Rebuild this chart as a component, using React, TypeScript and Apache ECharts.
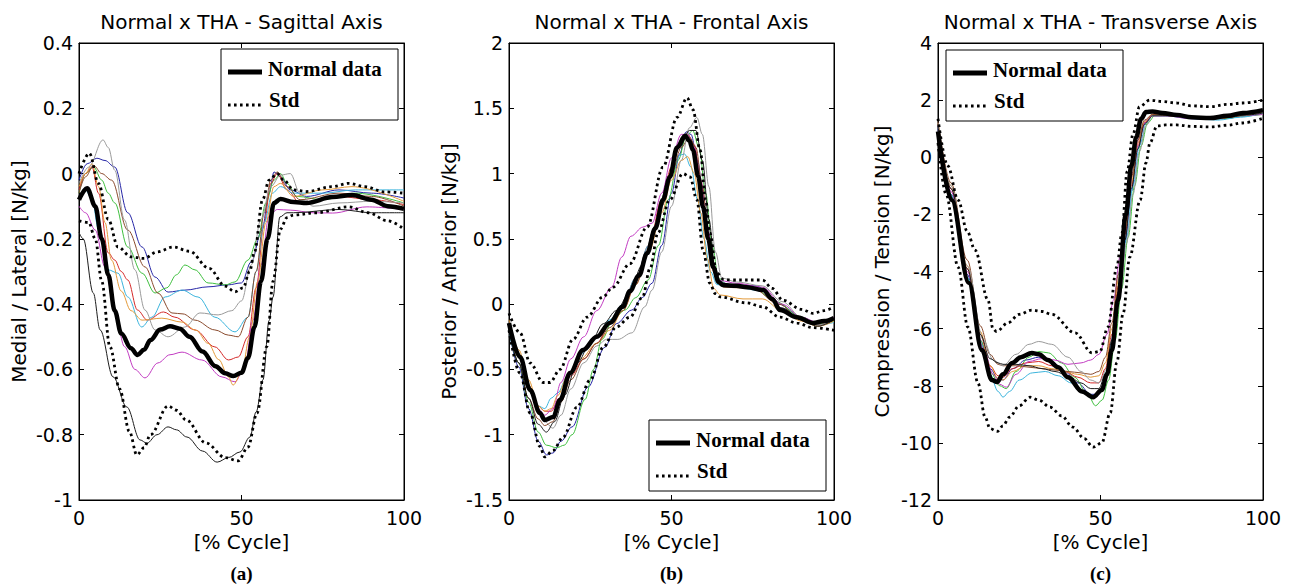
import React, { useEffect, useRef } from "react";
import * as echarts from "echarts";

const SANS = '"DejaVu Sans", "Liberation Sans", Arial, sans-serif';
const SERIF = '"Liberation Serif", "Times New Roman", serif';

// ---------- labels ----------
const panelTitles = [
  "Normal x THA - Sagittal Axis",
  "Normal x THA - Frontal Axis",
  "Normal x THA - Transverse Axis",
];
const yAxisNames = [
  "Medial / Lateral [N/kg]",
  "Posterior / Anterior [N/kg]",
  "Compression / Tension [N/kg]",
];
const xAxisName = "[% Cycle]";
const panelLetters = ["(a)", "(b)", "(c)"];
const legendNames = ["Normal data", "Std"];

// ---------- ticks ----------
const xTicks = { min: 0, max: 100, interval: 50 };
const yTicksA = { min: -1, max: 0.4, interval: 0.2 };
const yTicksB = { min: -1.5, max: 2, interval: 0.5 };
const yTicksC = { min: -12, max: 4, interval: 2 };

// ---------- panel (a) Sagittal ----------
const meanA = [[0,-0.08],[2.5,-0.045],[5,-0.1],[7,-0.2],[9,-0.31],[11,-0.42],[13,-0.49],[16,-0.535],[18,-0.556],[20,-0.54],[22,-0.51],[25,-0.478],[28,-0.468],[31,-0.475],[34,-0.5],[38,-0.545],[42,-0.59],[45,-0.612],[47.5,-0.62],[50,-0.61],[52,-0.565],[54,-0.47],[56,-0.33],[58,-0.2],[60,-0.09],[62,-0.078],[66,-0.087],[70,-0.09],[78,-0.072],[84,-0.066],[90,-0.08],[95,-0.1],[100,-0.108]];
const upperA = [[0,0.0],[3.2,0.062],[6,-0.03],[9,-0.14],[12,-0.225],[16,-0.255],[20,-0.26],[24,-0.24],[29,-0.225],[34,-0.238],[40,-0.29],[45,-0.345],[48,-0.362],[50.5,-0.35],[52.5,-0.3],[54,-0.24],[56.5,-0.08],[58.5,-0.02],[61,0.0],[63,-0.02],[66,-0.05],[70,-0.055],[78,-0.04],[83,-0.03],[88,-0.04],[94,-0.056],[100,-0.06]];
const lowerA = [[0,-0.145],[3,-0.15],[5,-0.2],[7,-0.33],[9.5,-0.53],[12.5,-0.66],[15.5,-0.79],[17.8,-0.862],[20,-0.84],[22,-0.8],[27.4,-0.712],[30,-0.725],[33,-0.755],[39,-0.825],[45,-0.87],[49,-0.88],[52,-0.838],[54.8,-0.733],[57.8,-0.53],[59.7,-0.33],[62,-0.17],[64,-0.135],[66,-0.127],[73,-0.12],[83,-0.102],[89,-0.12],[95,-0.145],[100,-0.17]];
const blueA = [[0,-0.02],[2.5,0.03],[5.5,0.047],[8,0.04],[11,0.02],[15,-0.12],[19.4,-0.225],[23.4,-0.317],[27.4,-0.363],[32.6,-0.357],[39.7,-0.347],[45.8,-0.341],[50,-0.335],[53,-0.27],[56.3,-0.173],[58.5,-0.06],[60,0.005],[62,-0.01],[65,-0.05],[70,-0.07],[80,-0.05],[90,-0.06],[100,-0.075]];
const greenA = [[0,-0.06],[2,0.0],[4.5,0.02],[7,-0.02],[9,-0.06],[11,-0.09],[15,-0.225],[19.4,-0.305],[23.4,-0.366],[27,-0.35],[30,-0.31],[32.6,-0.28],[35.7,-0.295],[39.7,-0.335],[45,-0.341],[48,-0.332],[52,-0.265],[55,-0.2],[57.5,-0.09],[60,-0.02],[62,0.0],[64,-0.03],[67,-0.07],[75,-0.08],[85,-0.06],[100,-0.09]];
const redA = [[0,-0.05],[2,0.0],[4,0.02],[6,-0.06],[9,-0.243],[11,-0.265],[13,-0.3],[15,-0.326],[18,-0.418],[21,-0.449],[26,-0.424],[29.5,-0.44],[35.7,-0.479],[41.8,-0.531],[46,-0.571],[49,-0.562],[52,-0.5],[54.5,-0.35],[57,-0.15],[59,-0.03],[61,0.0],[64,-0.05],[68,-0.09],[80,-0.07],[90,-0.08],[100,-0.095]];
const cyanA = [[0,-0.07],[2,-0.05],[4,-0.08],[6,-0.17],[9,-0.295],[12,-0.305],[15,-0.378],[19.3,-0.47],[22.4,-0.44],[26.5,-0.378],[31.7,-0.357],[36.6,-0.378],[41.8,-0.44],[48,-0.485],[52,-0.44],[54.5,-0.3],[57,-0.15],[59.5,-0.06],[62,-0.04],[66,-0.06],[75,-0.06],[85,-0.05],[100,-0.05]];
const magentaA = [[0,-0.1],[2,-0.12],[5,-0.173],[8,-0.286],[11,-0.42],[14,-0.53],[17.2,-0.6],[20.3,-0.626],[24.3,-0.58],[28,-0.555],[31.7,-0.547],[37.8,-0.571],[44,-0.623],[48,-0.638],[51,-0.593],[53.5,-0.45],[56,-0.28],[58.5,-0.13],[61,-0.11],[65,-0.112],[72,-0.12],[78,-0.121],[88.6,-0.102],[100,-0.11]];
const orangeA = [[0,-0.04],[2,0.0],[4,0.03],[6,-0.04],[8,-0.15],[10,-0.265],[13,-0.36],[16,-0.42],[19.4,-0.449],[25.5,-0.443],[31.7,-0.455],[36,-0.48],[39.7,-0.52],[43,-0.57],[46,-0.623],[47.4,-0.648],[50,-0.611],[52.5,-0.5],[55,-0.33],[57.5,-0.15],[60,-0.04],[62,-0.03],[66,-0.07],[75,-0.05],[84,-0.04],[100,-0.085]];
const brownA = [[0,-0.06],[2,-0.01],[4.5,0.025],[7,0.0],[10,-0.02],[15,-0.173],[20.3,-0.286],[24.3,-0.366],[28.6,-0.427],[32,-0.43],[35.7,-0.449],[41.8,-0.479],[46,-0.495],[49,-0.5],[52,-0.44],[54.5,-0.3],[57,-0.12],[59,-0.02],[61,0.005],[64,-0.04],[68,-0.08],[80,-0.06],[90,-0.07],[100,-0.1]];
const grayA = [[0,-0.03],[3,0.02],[7.4,0.103],[9,0.08],[11,0.01],[14,-0.142],[17.2,-0.295],[20.3,-0.418],[23.4,-0.479],[27.4,-0.5],[32.6,-0.47],[37.2,-0.427],[42.8,-0.433],[47,-0.42],[50,-0.39],[53,-0.28],[56,-0.14],[59,-0.04],[62,-0.005],[65,0.0],[68,-0.06],[72,-0.1],[80,-0.09],[90,-0.085],[100,-0.09]];
const blackA = [[0,-0.18],[1.3,-0.2],[4.4,-0.366],[6.5,-0.479],[10.5,-0.623],[14.7,-0.715],[18.8,-0.816],[20.9,-0.826],[24,-0.8],[27.4,-0.776],[30,-0.785],[33.2,-0.807],[38,-0.85],[42.5,-0.884],[46,-0.87],[49.5,-0.853],[52.6,-0.807],[54.5,-0.73],[56.6,-0.632],[58.5,-0.45],[59.7,-0.378],[61.8,-0.133],[64,-0.12],[66,-0.12],[80,-0.11],[90,-0.12],[100,-0.12]];

// ---------- panel (b) Frontal ----------
const meanB = [[0,-0.144],[3.4,-0.405],[6.5,-0.657],[9.5,-0.834],[11,-0.887],[13.6,-0.865],[15.7,-0.734],[18.8,-0.527],[22.8,-0.351],[27,-0.25],[31,-0.144],[35,-0.02],[37.2,0.1],[40,0.22],[42.5,0.39],[45,0.58],[47.4,0.8],[49.5,0.974],[51.7,1.2],[54.2,1.29],[55.5,1.25],[56.6,1.18],[58.2,0.98],[59.7,0.744],[61.3,0.5],[62.8,0.285],[64.5,0.17],[65.8,0.146],[70,0.14],[73.2,0.13],[78.2,0.108],[81,0.04],[83.4,-0.045],[88.6,-0.1],[93.5,-0.144],[97,-0.13],[100,-0.106]];
const upperB = [[0,-0.07],[3.4,-0.22],[6.5,-0.45],[10.5,-0.6],[12.6,-0.6],[15.7,-0.5],[19.7,-0.27],[24,-0.1],[28.9,0.055],[32,0.13],[37.2,0.31],[42.5,0.59],[47.4,1.05],[51.7,1.43],[54.8,1.58],[56.6,1.49],[58.8,1.18],[60.5,0.8],[61.8,0.545],[63.9,0.24],[66,0.19],[68,0.185],[78,0.185],[81,0.12],[84.3,0.03],[90,-0.04],[93.5,-0.07],[97,-0.05],[100,-0.02]];
const lowerB = [[0,-0.2],[3.4,-0.53],[6.5,-0.834],[9.5,-1.09],[11,-1.17],[13.6,-1.12],[16.6,-1.02],[20.9,-0.79],[25,-0.58],[29,-0.33],[33,-0.175],[37.2,-0.1],[41,0.05],[43.5,0.28],[45.8,0.545],[49.5,0.8],[53.5,1.0],[55.7,0.974],[57.8,0.8],[59.7,0.415],[61.8,0.16],[63.5,0.08],[65,0.055],[73,0.01],[78,-0.02],[83.4,-0.1],[88.6,-0.145],[93.5,-0.18],[100,-0.2]];
const blueB = [[0,-0.2],[3,-0.48],[6,-0.8],[9,-1.05],[11.6,-1.155],[13.5,-1.14],[16,-1.05],[19.4,-0.94],[24.3,-0.635],[29.5,-0.33],[33,-0.15],[37.8,-0.045],[41,0.05],[44,0.16],[47,0.45],[50,0.85],[52.5,1.15],[54.5,1.32],[56,1.3],[58,1.1],[60,0.75],[62,0.35],[64,0.18],[68,0.15],[76,0.14],[83,0.0],[90,-0.1],[95,-0.15],[100,-0.12]];
const greenB = [[0,-0.2],[3,-0.45],[6,-0.75],[9,-0.98],[11.5,-1.08],[14.7,-1.1],[17,-1.08],[19.4,-1.0],[23.4,-0.73],[26,-0.5],[28.6,-0.27],[32,-0.12],[35.7,-0.045],[39,0.05],[42.8,0.185],[46,0.45],[49,0.8],[52,1.1],[54.5,1.28],[56.5,1.33],[58.5,1.2],[60.5,0.85],[62.5,0.45],[64.5,0.2],[67,0.15],[75,0.13],[82,0.02],[90,-0.1],[95,-0.15],[100,-0.13]];
const redB = [[0,-0.15],[3,-0.4],[6,-0.62],[9,-0.78],[11,-0.82],[13,-0.82],[15.5,-0.72],[19,-0.55],[23,-0.42],[27,-0.3],[31,-0.15],[35,0.0],[39,0.2],[43,0.45],[47,0.8],[50,1.05],[53,1.25],[55,1.3],[57,1.22],[59,0.95],[61,0.55],[63,0.25],[65,0.15],[72,0.13],[78,0.1],[84,-0.03],[90,-0.12],[95,-0.16],[100,-0.12]];
const cyanB = [[0,-0.2],[3,-0.45],[6,-0.65],[9,-0.78],[11,-0.8],[13,-0.72],[15,-0.68],[18,-0.55],[22,-0.38],[27,-0.25],[31,-0.12],[35,0.0],[39,0.2],[43,0.45],[47,0.75],[50,1.0],[52.5,1.14],[54,1.15],[56,1.05],[58,0.8],[60,0.5],[62,0.25],[64,0.15],[70,0.13],[78,0.1],[84,-0.03],[90,-0.12],[95,-0.16],[100,-0.14]];
const magentaB = [[0,-0.15],[3,-0.4],[6,-0.65],[9,-0.8],[11,-0.85],[13.5,-0.8],[16,-0.6],[19,-0.42],[23,-0.25],[27,-0.05],[31.6,0.13],[34.7,0.36],[37.5,0.52],[41.2,0.59],[44,0.62],[47,0.85],[50,1.12],[53,1.3],[55,1.3],[57,1.2],[59,0.95],[61,0.6],[63,0.3],[65,0.18],[70,0.16],[78,0.13],[84,0.0],[90,-0.1],[95,-0.14],[100,-0.1]];
const orangeB = [[0,-0.12],[3,-0.35],[6,-0.58],[9,-0.78],[11,-0.82],[13,-0.8],[15,-0.7],[18,-0.55],[22,-0.42],[27,-0.3],[31,-0.2],[35,-0.05],[39,0.15],[43,0.4],[47,0.7],[50,0.95],[53,1.1],[55,1.13],[57,1.0],[59,0.7],[61,0.35],[63,0.12],[65,0.07],[72,0.04],[78,0.04],[84,-0.05],[90,-0.13],[95,-0.17],[100,-0.13]];
const brownB = [[0,-0.18],[3,-0.45],[6,-0.72],[9,-0.88],[11,-0.93],[13.5,-0.9],[16,-0.75],[19,-0.58],[23,-0.42],[27,-0.3],[31,-0.18],[35,-0.05],[39,0.15],[43,0.42],[47,0.75],[50,1.0],[53,1.2],[55.5,1.28],[57.5,1.2],[59.5,0.9],[61.5,0.5],[63.5,0.22],[66,0.13],[75,0.12],[83,0.0],[90,-0.12],[95,-0.16],[100,-0.12]];
const grayB = [[0,-0.15],[3,-0.38],[6,-0.62],[9,-0.8],[11,-0.9],[13.5,-0.95],[16,-0.85],[19,-0.65],[23,-0.45],[27,-0.32],[30,-0.27],[33.5,-0.27],[37.8,-0.22],[41.8,-0.02],[44,0.108],[47,0.4],[50,0.75],[53,1.1],[55.5,1.35],[57.8,1.43],[59.5,1.3],[61.5,0.9],[63.5,0.4],[65.5,0.2],[70,0.17],[78,0.14],[84,0.02],[90,-0.1],[95,-0.16],[100,-0.12]];
const blackB = [[0,-0.2],[3,-0.45],[6,-0.72],[9,-0.92],[11.5,-0.98],[14,-0.9],[17,-0.7],[21,-0.45],[25,-0.3],[29,-0.15],[33,-0.05],[37,0.08],[41,0.3],[45,0.6],[49,0.95],[52.5,1.2],[55.5,1.33],[57.5,1.33],[59.5,1.1],[61.5,0.65],[63.5,0.25],[65.5,0.15],[72,0.13],[78,0.1],[84,-0.03],[90,-0.12],[95,-0.17],[100,-0.12]];

// ---------- panel (c) Transverse ----------
const meanC = [[0,0.9],[4.2,-1.5],[9.5,-4.4],[13.5,-6.75],[16.6,-7.8],[18.2,-7.87],[20,-7.6],[22.8,-7.2],[25.5,-7.0],[28.9,-6.85],[31,-6.9],[33.8,-7.1],[37,-7.35],[40,-7.7],[44.3,-8.2],[47.7,-8.4],[50.4,-8.15],[52,-7.6],[53.5,-6.75],[55.4,-5.0],[57.8,-2.0],[59.5,-0.3],[61,0.7],[62.5,1.35],[64,1.58],[66,1.6],[69,1.55],[73.5,1.48],[78,1.4],[83.7,1.37],[89,1.45],[93.8,1.55],[100,1.65]];
const upperC = [[0,1.35],[3,-0.3],[6.2,-1.5],[9,-2.6],[11.4,-3.25],[15.4,-5.0],[16.9,-6.0],[18,-6.1],[21.5,-5.8],[25,-5.5],[28.9,-5.35],[32,-5.4],[35,-5.5],[42.2,-6.15],[47.4,-6.85],[49.8,-6.8],[52.3,-5.95],[55,-3.85],[56.6,-2.65],[58.2,-0.5],[60,0.8],[62,1.77],[65.2,2.0],[69,1.95],[73.5,1.9],[78,1.8],[83.7,1.77],[89,1.85],[93.8,1.9],[100,2.0]];
const lowerC = [[0,0.5],[2.5,-1.3],[6.2,-3.85],[9.2,-5.95],[12.3,-7.9],[14.5,-9.1],[16,-9.5],[18.2,-9.6],[20,-9.4],[22,-9.1],[25,-8.7],[28.3,-8.4],[31,-8.5],[34.5,-8.75],[38,-9.05],[41.5,-9.45],[45,-9.85],[47.7,-10.15],[50.4,-10.0],[53,-8.95],[55,-7.2],[57,-5.45],[59,-3.5],[62.2,-1.5],[64,-0.2],[65.2,0.5],[67.4,1.1],[70,1.13],[73.5,1.13],[78,1.08],[83.7,1.06],[89,1.12],[93.8,1.2],[100,1.37]];
const blueC = [[0,1.0],[4,-1.3],[9,-4.1],[13,-6.4],[16,-7.4],[18.5,-7.75],[20,-7.8],[23,-7.4],[27,-7.1],[31,-7.0],[35,-7.15],[39,-7.5],[43,-7.9],[47,-8.3],[49.5,-8.3],[51.5,-7.8],[53.5,-6.5],[55.5,-4.8],[57.5,-3.0],[59.5,-1.2],[61.5,0.3],[63.5,1.2],[66,1.5],[72,1.45],[80,1.35],[88,1.35],[95,1.45],[100,1.55]];
const greenC = [[0,1.1],[4,-1.3],[9,-4.2],[13,-6.4],[16,-7.5],[19,-8.0],[21,-8.1],[24,-7.5],[28,-7.0],[31,-6.8],[34,-6.85],[38,-7.2],[42,-7.7],[46,-8.3],[48.5,-8.7],[50.5,-8.5],[52.5,-7.8],[54.5,-6.4],[56.5,-4.6],[58.5,-2.8],[60.5,-1.0],[62.5,0.4],[64.5,1.2],[67,1.5],[72,1.45],[80,1.35],[88,1.35],[95,1.45],[100,1.5]];
const redC = [[0,1.15],[4,-1.1],[9,-3.9],[13,-6.2],[16,-7.3],[18.5,-7.65],[20,-7.7],[23,-7.4],[27,-7.2],[31,-7.15],[35,-7.3],[39,-7.5],[43,-7.7],[47,-7.9],[49.5,-7.9],[51.5,-7.4],[53.5,-6.2],[55.5,-4.5],[57.5,-2.7],[59.5,-1.0],[61.5,0.4],[63.5,1.2],[66,1.5],[72,1.45],[80,1.38],[88,1.38],[95,1.48],[100,1.6]];
const cyanC = [[0,1.1],[4,-1.3],[9,-4.2],[13,-6.5],[16,-7.6],[18.5,-8.2],[20,-8.4],[22,-8.2],[25,-7.8],[29,-7.55],[33,-7.5],[37,-7.65],[41,-7.9],[45,-8.2],[48,-8.35],[50,-8.2],[52,-7.5],[54,-6.2],[56,-4.6],[58,-2.8],[60,-1.0],[62,0.4],[64,1.2],[66,1.45],[70,1.45],[78,1.35],[86,1.3],[93,1.4],[100,1.55]];
const magentaC = [[0,1.1],[4,-1.2],[9,-4.0],[14,-6.7],[17,-7.6],[19,-7.95],[21,-8.05],[24,-7.6],[28,-7.15],[32,-7.05],[36,-7.1],[40,-7.25],[44,-7.2],[47,-7.1],[49.5,-6.9],[52,-6.2],[54,-5.0],[56,-3.5],[58,-2.0],[60,-0.5],[62,0.7],[64,1.3],[66,1.45],[70,1.45],[78,1.35],[85,1.35],[92,1.45],[100,1.5]];
const orangeC = [[0,1.2],[4,-1.0],[9,-3.8],[13,-6.1],[16,-7.3],[18.5,-7.75],[20,-7.8],[23,-7.5],[27,-7.3],[31,-7.3],[35,-7.4],[39,-7.5],[43,-7.6],[47,-7.7],[49.5,-7.65],[51.5,-7.2],[53.5,-6.0],[55.5,-4.3],[57.5,-2.5],[59.5,-0.9],[61.5,0.5],[63.5,1.25],[66,1.5],[72,1.45],[80,1.38],[88,1.38],[95,1.48],[100,1.6]];
const brownC = [[0,1.25],[4,-0.9],[9,-3.6],[13,-5.9],[16,-6.9],[18.5,-7.25],[20,-7.3],[24,-7.3],[28,-7.35],[32,-7.4],[36,-7.45],[40,-7.5],[44,-7.55],[47,-7.6],[49.5,-7.5],[51.5,-7.0],[53.5,-5.8],[55.5,-4.1],[57.5,-2.3],[59.5,-0.7],[61.5,0.6],[63.5,1.3],[66,1.5],[72,1.45],[80,1.38],[88,1.38],[95,1.48],[100,1.6]];
const grayC = [[0,1.2],[4,-1.0],[9,-3.8],[14,-6.4],[17,-7.1],[20,-7.3],[24,-6.9],[28,-6.55],[31,-6.45],[35,-6.55],[40,-7.0],[44,-7.5],[47,-7.8],[49.5,-7.9],[52,-7.4],[54,-6.3],[56,-4.8],[58,-3.0],[60,-1.3],[62,0.2],[64,1.1],[66,1.45],[70,1.5],[78,1.38],[85,1.35],[92,1.45],[100,1.55]];
const blackC = [[0,1.1],[4,-1.1],[9,-3.9],[13,-6.2],[16,-7.05],[18.5,-7.2],[20,-7.25],[24,-7.25],[28,-7.3],[32,-7.4],[36,-7.5],[40,-7.65],[44,-7.9],[47,-8.1],[49.5,-8.1],[51.5,-7.6],[53.5,-6.4],[55.5,-4.7],[57.5,-2.9],[59.5,-1.1],[61.5,0.3],[63.5,1.15],[66,1.45],[72,1.45],[80,1.38],[88,1.38],[95,1.48],[100,1.55]];

const thinColors = ["#2626a6", "#3fbf3f", "#d42a2a", "#3cb4dc", "#c23cc2", "#e39a3a", "#8a4b2e", "#9a9a9a", "#1c1c1c"];

const panels = [
  { mean: meanA, upper: upperA, lower: lowerA, ticks: yTicksA, thin: [blueA, greenA, redA, cyanA, magentaA, orangeA, brownA, grayA, blackA] },
  { mean: meanB, upper: upperB, lower: lowerB, ticks: yTicksB, thin: [blueB, greenB, redB, cyanB, magentaB, orangeB, brownB, grayB, blackB] },
  { mean: meanC, upper: upperC, lower: lowerC, ticks: yTicksC, thin: [blueC, greenC, redC, cyanC, magentaC, orangeC, brownC, grayC, blackC] },
];

// layout (pixels)
const gridBoxes = [
  { left: 79, top: 43, width: 325, height: 457 },
  { left: 509, top: 43, width: 325, height: 457 },
  { left: 938, top: 43, width: 325, height: 457 },
];
const yNameGaps = [50, 50, 46];
const legendBoxes = [
  { x: 221, y: 49 },
  { x: 649, y: 420 },
  { x: 946, y: 50 },
];

function buildOption() {
  const axisLine = { show: true, onZero: false, lineStyle: { color: "#000", width: 1 } };
  const tick = { show: true, inside: true, length: 5, lineStyle: { color: "#000" } };
  const labelStyle = { fontFamily: SANS, fontSize: 19, color: "#000" };
  const xAxis: any[] = [];
  const yAxis: any[] = [];
  const series: any[] = [];
  const graphic: any[] = [];

  panels.forEach((p, i) => {
    xAxis.push({
      gridIndex: i, type: "value", position: "bottom", ...xTicks,
      axisLine, axisTick: tick, splitLine: { show: false },
      axisLabel: { ...labelStyle, margin: 8 },
      name: xAxisName, nameLocation: "middle", nameGap: 32,
      nameTextStyle: { fontFamily: SANS, fontSize: 20, color: "#000" },
    });
    xAxis.push({
      gridIndex: i, type: "value", position: "top", ...xTicks,
      axisLine, axisTick: tick, splitLine: { show: false }, axisLabel: { show: false },
    });
    yAxis.push({
      gridIndex: i, type: "value", position: "left", ...p.ticks,
      axisLine, axisTick: tick, splitLine: { show: false },
      axisLabel: { ...labelStyle, margin: 6 },
      name: yAxisNames[i], nameLocation: "middle", nameGap: yNameGaps[i], nameRotate: 90,
      nameTextStyle: { fontFamily: SANS, fontSize: 20, color: "#000" },
    });
    yAxis.push({
      gridIndex: i, type: "value", position: "right", ...p.ticks,
      axisLine, axisTick: tick, splitLine: { show: false }, axisLabel: { show: false },
    });

    const base = { type: "line", xAxisIndex: i * 2, yAxisIndex: i * 2, showSymbol: false, symbol: "none", smooth: 0.35, smoothMonotone: "x", silent: true };
    p.thin.forEach((d, k) => {
      series.push({ ...base, name: "THA " + (k + 1), data: d, lineStyle: { color: thinColors[k], width: 1 }, z: 2 });
    });
    [p.upper, p.lower].forEach((d) => {
      series.push({ ...base, name: legendNames[1], data: d, lineStyle: { color: "#000", width: 2.8, type: [2.6, 3.4], cap: "butt" }, z: 3 });
    });
    series.push({ ...base, name: legendNames[0], data: p.mean, lineStyle: { color: "#000", width: 4.5 }, z: 4 });

    const g = gridBoxes[i];
    const cx = g.left + g.width / 2;
    graphic.push({
      type: "text", x: cx, y: 22, z: 50,
      style: { text: panelTitles[i], font: `20px ${SANS}`, fill: "#000", align: "center", verticalAlign: "middle", textAlign: "center", textVerticalAlign: "middle" },
    });
    graphic.push({
      type: "text", x: cx, y: 573, z: 50,
      style: { text: panelLetters[i], font: `bold 19px ${SERIF}`, fill: "#000", align: "center", verticalAlign: "middle", textAlign: "center", textVerticalAlign: "middle" },
    });
    const lb = legendBoxes[i];
    graphic.push({
      type: "group", x: lb.x, y: lb.y, z: 60,
      children: [
        { type: "rect", shape: { x: 0, y: 0, width: 177, height: 71 }, style: { fill: "#fff", stroke: "#000", lineWidth: 1 } },
        { type: "line", shape: { x1: 7, y1: 23, x2: 41, y2: 23 }, style: { stroke: "#000", lineWidth: 5 } },
        { type: "line", shape: { x1: 7, y1: 56, x2: 41, y2: 56 }, style: { stroke: "#000", lineWidth: 3, lineDash: [2.6, 3.4] } },
        { type: "text", x: 47, y: 20, style: { text: legendNames[0], font: `bold 21px ${SERIF}`, fill: "#000", verticalAlign: "middle", textVerticalAlign: "middle" } },
        { type: "text", x: 48, y: 51, style: { text: legendNames[1], font: `bold 21px ${SERIF}`, fill: "#000", verticalAlign: "middle", textVerticalAlign: "middle" } },
      ],
    });
  });

  return {
    animation: false,
    backgroundColor: "#fff",
    grid: gridBoxes.map((g) => ({ ...g, show: true, borderColor: "#000", borderWidth: 1, backgroundColor: "transparent", containLabel: false })),
    xAxis,
    yAxis,
    series,
    graphic,
  };
}

export default function App() {
  const ref = useRef<HTMLDivElement>(null);
  useEffect(() => {
    document.body.style.margin = "0";
    if (!ref.current) return;
    const chart = echarts.init(ref.current, undefined, { renderer: "svg" });
    chart.setOption(buildOption() as any);
    return () => chart.dispose();
  }, []);
  return <div ref={ref} style={{ width: 1295, height: 584 }} />;
}
